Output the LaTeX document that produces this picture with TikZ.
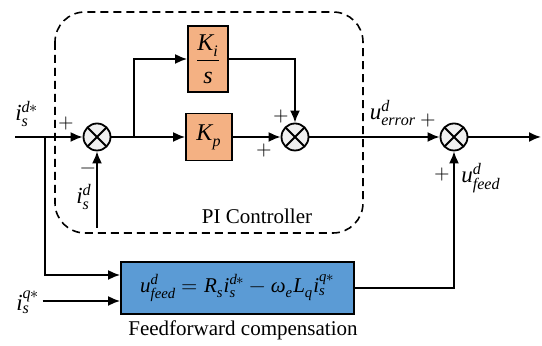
\documentclass[tikz,border=0pt]{standalone}
\usepackage{amsmath}
\usepackage{unicode-math}
\setmainfont{Liberation Serif}
\setmathfont{Latin Modern Math}
\setmathfont{Liberation Serif Italic}[range=it]
\usetikzlibrary{arrows.meta,positioning}

\definecolor{gainfill}{HTML}{F4B183}
\definecolor{feedfill}{HTML}{5B9BD5}
\definecolor{sumfill}{HTML}{F0F0F0}

\tikzset{
  sumnode/.style={circle,draw,fill=sumfill,minimum size=13.5pt,inner sep=0pt,
    path picture={\draw (path picture bounding box.north west) -- (path picture bounding box.south east)
      (path picture bounding box.north east) -- (path picture bounding box.south west);}},
  gainbox/.style={draw,fill=gainfill,inner sep=0pt,font=\large},
  lbl/.style={font=\fontsize{11.5}{13}\selectfont,inner sep=1pt},
  txt/.style={font=\fontsize{10.5}{12}\selectfont},
}

\begin{document}
\begin{tikzpicture}[x=0.5pt,y=-0.5pt,>={Latex[length=6pt,width=5pt]},line width=0.9pt]
  \useasboundingbox (0,0) rectangle (542,346);
  % PI controller frame
  \draw[line width=0.8pt,dash pattern=on 4pt off 2.5pt,rounded corners=15pt] (55,12) rectangle (363,233);
  \node[txt] at (257,216) {PI Controller};

  \node[sumnode] (sumerr) at (97,137) {};
  \node[gainbox,minimum width=20pt,minimum height=33pt] (ki) at (208,59) {$\dfrac{K_i}{s}$};
  \node[gainbox,minimum width=23pt,minimum height=23.5pt] (kp) at (209,137) {$K_p$};
  \node[sumnode] (sumpi) at (295,137) {};
  \node[sumnode] (sumout) at (454,137) {};
  \node[draw,fill=feedfill,minimum width=116.5pt,minimum height=26pt,inner sep=1pt,
    font=\fontsize{10.5}{13}\selectfont] (ffbox) at (237.5,288)
    {$u^d_{feed}=R_s i_s^{d*}-\omega_e L_q i_s^{q*}$};
  \node[txt] at (243,330) {Feedforward compensation};

  \coordinate (in) at (15,137);
  \coordinate (br1) at (45,137);
  \coordinate (br2) at (134,137);
  \coordinate (fb) at (97,228);
  \coordinate (out) at (541,137);
  \coordinate (ffin1) at ([yshift=6.5pt]ffbox.west);
  \coordinate (ffin2) at ([yshift=-6.5pt]ffbox.west);

  % connectors
  \draw[->] (in) -- (sumerr);
  \draw[->] (fb) -- (sumerr.south);
  \draw[->] (sumerr) -- (kp);
  \draw[->] (br2) |- (ki.west);
  \draw[->] (ki.east) -| (sumpi.north);
  \draw[->] (kp) -- (sumpi);
  \draw[->] (sumpi) -- (sumout);
  \draw[->] (sumout) -- (out);
  \draw[->] (br1) |- (ffin1);
  \node[lbl] (iq) at (28,302) {$i_s^{q*}$};
  \draw[->] (iq.east |- ffin2) -- (ffin2);
  \draw[->] (ffbox.east) -| (sumout.south);

  % signs and labels
  \node[lbl] (id) at (27,114) {$i_s^{d*}$};
  \node at (66,124) {$+$};
  \node at (88,171) {$-$};
  \node[lbl] (idfb) at (84,197) {$i_s^d$};
  \node at (281,117) {$+$};
  \node at (264,151) {$+$};
  \node[lbl] (uerr) at (393,113) {$u^d_{error}$};
  \node at (428,121) {$+$};
  \node[lbl] (ufeed) at (481,178) {$u^d_{feed}$};
  \node at (442,175) {$+$};
\end{tikzpicture}
\end{document}
